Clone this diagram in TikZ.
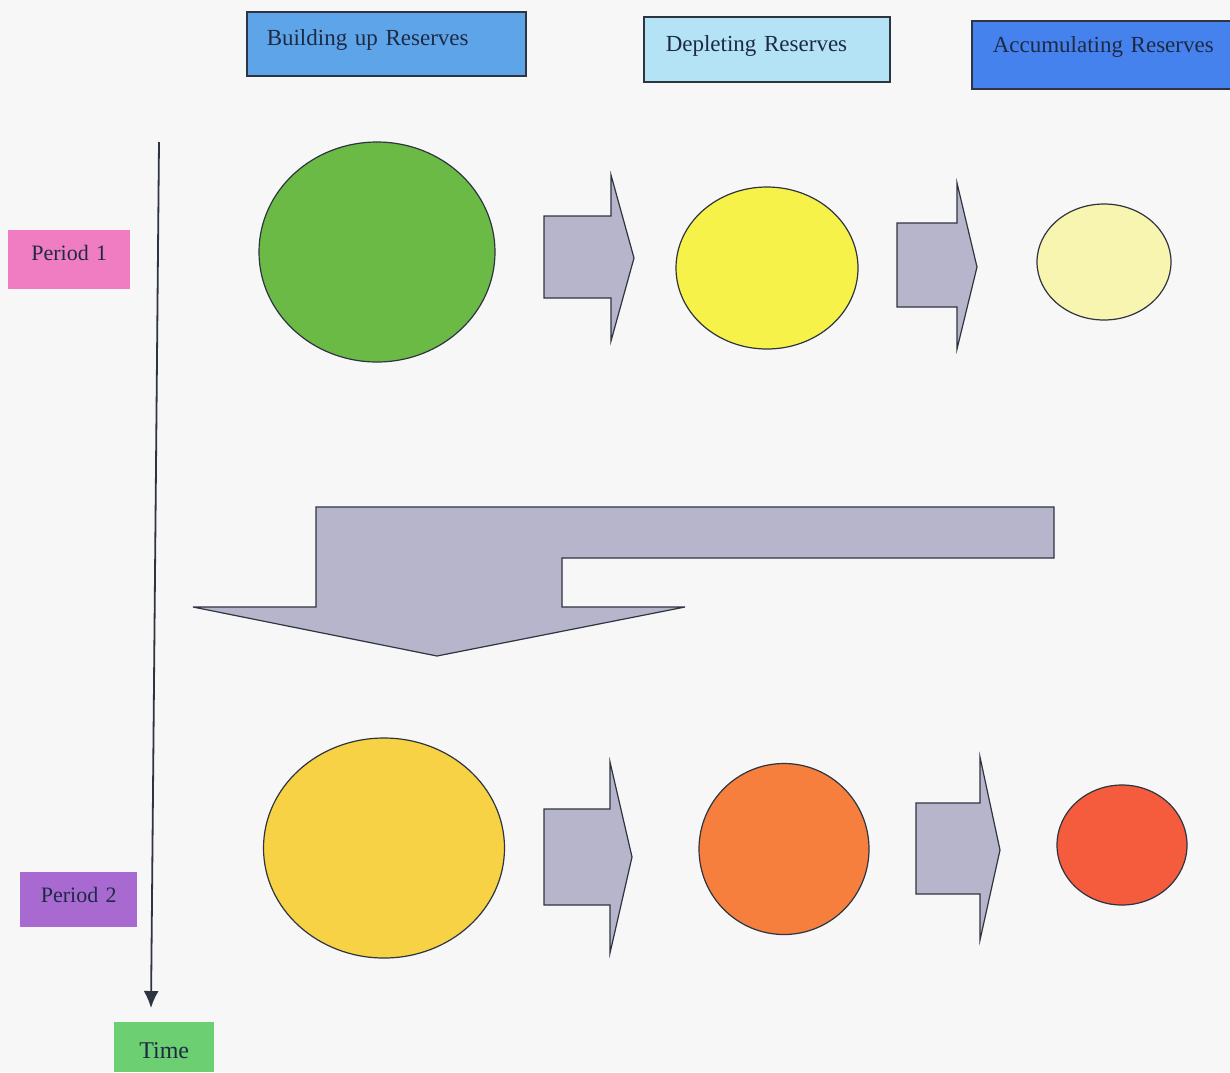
\documentclass[tikz,border=0pt]{standalone}
\usepackage{fontspec}
\setmainfont{Liberation Serif}
\usepackage{xcolor}
\usepackage{tikz}
\usetikzlibrary{shapes.geometric,arrows.meta}
\definecolor{paper}{HTML}{F7F7F7}
\definecolor{inkdark}{HTML}{1E2A44}
\definecolor{edgegray}{HTML}{2E3440}
\definecolor{buildblue}{HTML}{5EA4E8}
\definecolor{depletecyan}{HTML}{B3E3F5}
\definecolor{accublue}{HTML}{4582EE}
\definecolor{periodpink}{HTML}{F07DC2}
\definecolor{periodpurple}{HTML}{A86AD0}
\definecolor{timegreen}{HTML}{6CCF72}
\definecolor{flowgray}{HTML}{B7B5CC}
\definecolor{leafgreen}{HTML}{6BBA46}
\definecolor{sunyellow}{HTML}{F6F24A}
\definecolor{paleyellow}{HTML}{F7F5AF}
\definecolor{goldyellow}{HTML}{F7D244}
\definecolor{deeporange}{HTML}{F77F3E}
\definecolor{redorange}{HTML}{F55B3D}
\tikzset{
  headbox/.style={draw=edgegray, line width=1.5pt, anchor=north west, inner ysep=0pt,
    align=left, text=inkdark, font=\fontsize{23}{26}\selectfont},
  tagbox/.style={anchor=north west, inner sep=0pt, align=center, text=inkdark,
    font=\fontsize{22}{25}\selectfont},
  reserve/.style={ellipse, draw=edgegray, line width=1.2pt, inner sep=0pt},
  flowarrow/.style={draw=edgegray, line width=1.2pt, fill=flowgray, line join=miter},
  timeline/.style={draw=edgegray, line width=1.8pt, -{Latex[length=17pt,width=15pt]}}
}
\begin{document}
\begin{tikzpicture}[x=1pt, y=-1pt]
\useasboundingbox (0,0) rectangle (1230,1072);
\fill[paper] (0,0) rectangle (1230,1072);

\node[headbox, fill=buildblue, text width=239pt, inner xsep=20pt, text height=34pt, text depth=30pt] (build) at (246,11) {Building up Reserves};
\node[headbox, fill=depletecyan, text width=202pt, inner xsep=22pt, text height=35pt, text depth=30pt] (deplete) at (643,16) {Depleting Reserves};
\node[headbox, fill=accublue, text width=225pt, inner xsep=21pt, text height=32pt, text depth=36pt] (accumulate) at (971,20) {Accumulating Reserves};

\node[tagbox, fill=periodpink, text width=122pt, text height=30pt, text depth=29pt] (period1) at (8,230) {Period 1};
\node[tagbox, fill=periodpurple, text width=117pt, text height=30pt, text depth=25pt] (period2) at (20,872) {Period 2};
\node[tagbox, fill=timegreen, text width=100pt, text height=36pt, text depth=14pt, font=\fontsize{24}{27}\selectfont] (time) at (114,1022) {Time};

\coordinate (axtop) at (159,142);
\coordinate (axend) at (151,1008);
\draw[timeline] (axtop) -- (axend);

\node[reserve, fill=leafgreen, minimum width=236pt, minimum height=220pt] (green1) at (377,252) {};
\node[reserve, fill=sunyellow, minimum width=182pt, minimum height=162pt] (yellow1) at (767,268) {};
\node[reserve, fill=paleyellow, minimum width=134pt, minimum height=116pt] (pale1) at (1104,262) {};
\node[reserve, fill=goldyellow, minimum width=241pt, minimum height=220pt] (gold2) at (384,848) {};
\node[reserve, fill=deeporange, minimum width=170pt, minimum height=171pt] (orange2) at (784,849) {};
\node[reserve, fill=redorange, minimum width=130pt, minimum height=120pt] (red2) at (1122,845) {};

\draw[flowarrow] (544,216) -- (611,216) -- (611,175) -- (634,258) -- (611,341) -- (611,298) -- (544,298) -- cycle;
\draw[flowarrow] (897,223) -- (957,223) -- (957,183) -- (977,267) -- (957,349) -- (957,307) -- (897,307) -- cycle;
\draw[flowarrow] (544,809) -- (610,809) -- (610,762) -- (632,857) -- (610,953) -- (610,905) -- (544,905) -- cycle;
\draw[flowarrow] (916,803) -- (980,803) -- (980,757) -- (1000,850) -- (980,940) -- (980,894) -- (916,894) -- cycle;

\draw[flowarrow] (316,507) -- (1054,507) -- (1054,558) -- (562,558) -- (562,607) -- (685,607) -- (437,656) -- (193,607) -- (316,607) -- cycle;
\end{tikzpicture}
\end{document}
